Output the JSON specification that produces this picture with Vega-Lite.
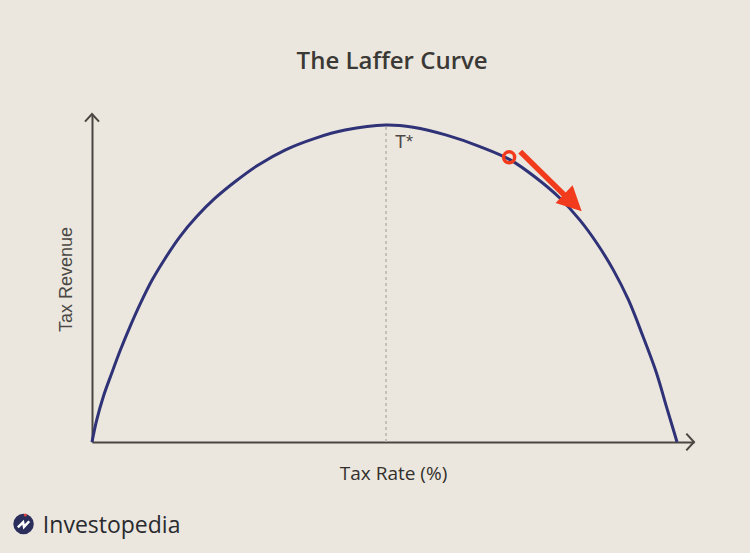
{
  "$schema": "https://vega.github.io/schema/vega-lite/v6.json",
  "width": 602,
  "height": 328,
  "autosize": {"type": "none"},
  "padding": {"left": 92, "top": 114, "right": 56, "bottom": 111},
  "background": "#ebe7df",
  "config": {"view": {"stroke": null}},
  "datasets": {
    "curve": [
      {"rate": 0, "revenue": 0},
      {"rate": 0.8, "revenue": 6.9},
      {"rate": 1.93, "revenue": 14.3},
      {"rate": 3.37, "revenue": 21.7},
      {"rate": 4.85, "revenue": 29.0},
      {"rate": 6.5, "revenue": 36.4},
      {"rate": 8.3, "revenue": 43.8},
      {"rate": 10.25, "revenue": 51.0},
      {"rate": 12.5, "revenue": 57.9},
      {"rate": 15.04, "revenue": 64.8},
      {"rate": 17.9, "revenue": 71.1},
      {"rate": 21.03, "revenue": 76.9},
      {"rate": 24.44, "revenue": 82.1},
      {"rate": 28.43, "revenue": 87.4},
      {"rate": 32.99, "revenue": 92.1},
      {"rate": 38.12, "revenue": 95.8},
      {"rate": 43.25, "revenue": 98.4},
      {"rate": 50.2, "revenue": 100},
      {"rate": 54.9, "revenue": 99.3},
      {"rate": 60.6, "revenue": 96.8},
      {"rate": 66.3, "revenue": 93.2},
      {"rate": 71.5, "revenue": 89.0},
      {"rate": 76.0, "revenue": 83.2},
      {"rate": 80.0, "revenue": 76.9},
      {"rate": 83.4, "revenue": 70.0},
      {"rate": 86.3, "revenue": 62.7},
      {"rate": 89.1, "revenue": 54.3},
      {"rate": 91.7, "revenue": 44.8},
      {"rate": 94.2, "revenue": 33.2},
      {"rate": 96.5, "revenue": 21.7},
      {"rate": 98.2, "revenue": 11.1},
      {"rate": 100, "revenue": 0}
    ],
    "peak": [{"rate": 50.26, "low": 0, "high": 100, "label": "T*", "labelRate": 51.8, "labelRevenue": 92.7}],
    "move": [{"rate": 71.3, "revenue": 89.8, "startRate": 73.2, "startRevenue": 91.6, "endRate": 80.9, "endRevenue": 77.6, "headRate": 82.2, "headRevenue": 75.5}],
    "yTip": [{"rate": 0, "revenue": 103.47}],
    "xTip": [{"rate": 102.9, "revenue": 0}],
    "heading": [{"rate": 51.3, "revenue": 117.6, "text": "The Laffer Curve"}],
    "brand": [{"rate": -11.7, "revenue": -25.9, "dotRate": -11.4, "dotRevenue": -23.0, "textRate": -8.4, "textRevenue": -28.6, "text": "Investopedia"}]
  },
  "layer": [
    {
      "data": {"name": "curve"},
      "mark": {"type": "line", "color": "#2f3277", "strokeWidth": 3, "interpolate": "catmull-rom"},
      "encoding": {
        "x": {
          "field": "rate", "type": "quantitative",
          "scale": {"domain": [0, 102.9], "nice": false, "zero": false},
          "axis": {
            "title": "Tax Rate (%)", "ticks": false, "labels": false, "grid": false,
            "domainColor": "#4a4641", "domainWidth": 2,
            "titleFont": "Open Sans", "titleFontSize": 19, "titleFontWeight": "normal",
            "titleColor": "#33302c", "titleX": 301, "titleY": 37,
            "titleAlign": "center", "titleBaseline": "alphabetic"
          }
        },
        "y": {
          "field": "revenue", "type": "quantitative",
          "scale": {"domain": [0, 103.47], "nice": false, "zero": false},
          "axis": {
            "title": "Tax Revenue", "ticks": false, "labels": false, "grid": false,
            "domainColor": "#4a4641", "domainWidth": 2,
            "titleFont": "Liberation Sans", "titleFontSize": 18, "titleFontWeight": "normal",
            "titleColor": "#4a4744", "titleX": -21, "titleY": 165, "titleAngle": 270,
            "titleAlign": "center", "titleBaseline": "alphabetic"
          }
        }
      }
    },
    {
      "data": {"name": "peak"},
      "mark": {"type": "rule", "color": "#b9b4ac", "strokeWidth": 1.5, "strokeDash": [3, 3]},
      "encoding": {
        "x": {"field": "rate", "type": "quantitative"},
        "y": {"field": "low", "type": "quantitative"},
        "y2": {"field": "high"}
      }
    },
    {
      "data": {"name": "peak"},
      "mark": {"type": "text", "font": "Liberation Sans", "fontSize": 18, "color": "#4b4845", "align": "left", "baseline": "alphabetic"},
      "encoding": {
        "x": {"field": "labelRate", "type": "quantitative"},
        "y": {"field": "labelRevenue", "type": "quantitative"},
        "text": {"field": "label"}
      }
    },
    {
      "data": {"name": "move"},
      "mark": {"type": "rule", "color": "#f23b1d", "strokeWidth": 5.5, "strokeCap": "butt"},
      "encoding": {
        "x": {"field": "startRate", "type": "quantitative"},
        "y": {"field": "startRevenue", "type": "quantitative"},
        "x2": {"field": "endRate"},
        "y2": {"field": "endRevenue"}
      }
    },
    {
      "data": {"name": "move"},
      "mark": {"type": "point", "shape": "M-1,-1 L1,0 L-1,1 Z", "filled": true, "color": "#f23b1d", "opacity": 1, "size": 600, "angle": 44},
      "encoding": {
        "x": {"field": "headRate", "type": "quantitative"},
        "y": {"field": "headRevenue", "type": "quantitative"}
      }
    },
    {
      "data": {"name": "move"},
      "mark": {"type": "point", "shape": "circle", "filled": false, "stroke": "#f23b1d", "strokeWidth": 3.5, "opacity": 1, "size": 121},
      "encoding": {
        "x": {"field": "rate", "type": "quantitative"},
        "y": {"field": "revenue", "type": "quantitative"}
      }
    },
    {
      "data": {"name": "yTip"},
      "mark": {"type": "point", "shape": "M-1,1.1 L0,0 L1,1.1", "filled": false, "stroke": "#4a4641", "strokeWidth": 2, "opacity": 1, "size": 196},
      "encoding": {
        "x": {"field": "rate", "type": "quantitative"},
        "y": {"field": "revenue", "type": "quantitative"}
      }
    },
    {
      "data": {"name": "xTip"},
      "mark": {"type": "point", "shape": "M-1.1,-1.2 L0,0 L-1.1,1.2", "filled": false, "stroke": "#4a4641", "strokeWidth": 2, "opacity": 1, "size": 196},
      "encoding": {
        "x": {"field": "rate", "type": "quantitative"},
        "y": {"field": "revenue", "type": "quantitative"}
      }
    },
    {
      "data": {"name": "heading"},
      "mark": {"type": "text", "font": "Open Sans", "fontSize": 24, "fontWeight": 600, "color": "#3b3935", "align": "center", "baseline": "alphabetic"},
      "encoding": {
        "x": {"field": "rate", "type": "quantitative"},
        "y": {"field": "revenue", "type": "quantitative"},
        "text": {"field": "text"}
      }
    },
    {
      "data": {"name": "brand"},
      "mark": {"type": "point", "shape": "circle", "filled": true, "color": "#2b2e5a", "opacity": 1, "size": 420},
      "encoding": {
        "x": {"field": "rate", "type": "quantitative"},
        "y": {"field": "revenue", "type": "quantitative"}
      }
    },
    {
      "data": {"name": "brand"},
      "mark": {"type": "point", "shape": "M-0.6,0.35 L-0.05,-0.2 L0.05,0.3 L0.6,-0.3", "filled": false, "stroke": "#ffffff", "strokeWidth": 2.5, "opacity": 1, "size": 360},
      "encoding": {
        "x": {"field": "rate", "type": "quantitative"},
        "y": {"field": "revenue", "type": "quantitative"}
      }
    },
    {
      "data": {"name": "brand"},
      "mark": {"type": "point", "shape": "circle", "filled": true, "color": "#e0443a", "opacity": 1, "size": 9},
      "encoding": {
        "x": {"field": "dotRate", "type": "quantitative"},
        "y": {"field": "dotRevenue", "type": "quantitative"}
      }
    },
    {
      "data": {"name": "brand"},
      "mark": {"type": "text", "font": "Open Sans", "fontSize": 23, "fontWeight": 500, "color": "#2a2a2e", "align": "left", "baseline": "alphabetic"},
      "encoding": {
        "x": {"field": "textRate", "type": "quantitative"},
        "y": {"field": "textRevenue", "type": "quantitative"},
        "text": {"field": "text"}
      }
    }
  ]
}
